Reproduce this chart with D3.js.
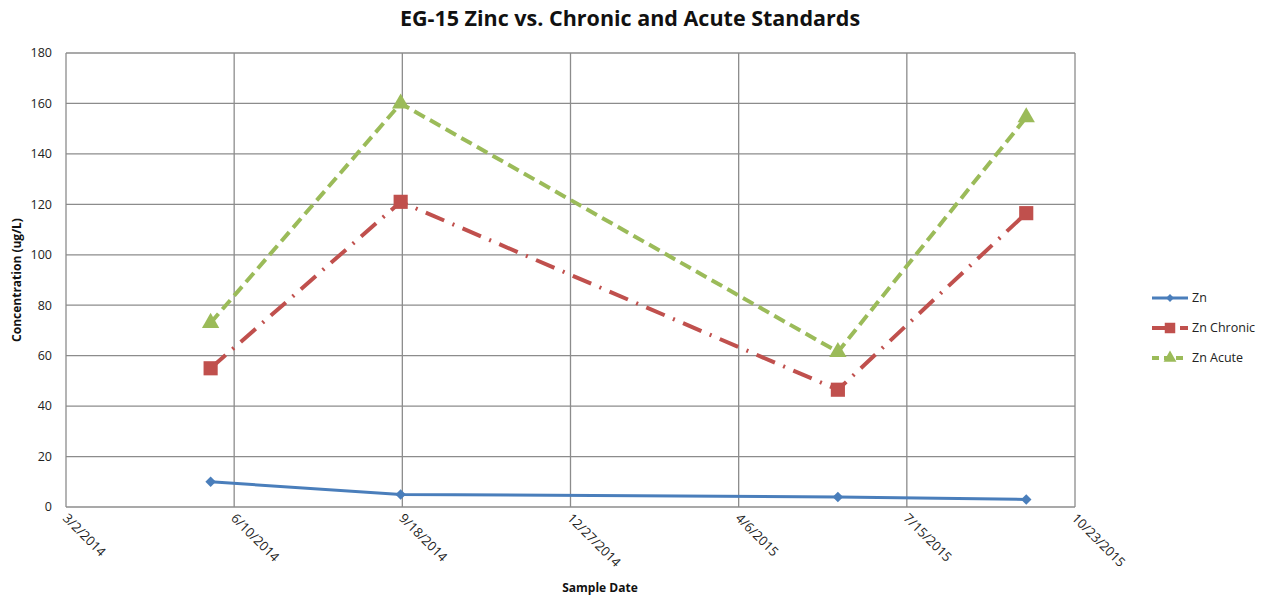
<!DOCTYPE html>
<html>
<head>
<meta charset="utf-8">
<script src="https://cdn.jsdelivr.net/npm/d3@7"></script>
<style>
  html, body { margin: 0; padding: 0; background: #fff; }
  svg { display: block; font-family: "Open Sans", "Liberation Sans", sans-serif; }
</style>
</head>
<body>
<svg id="chart" width="1267" height="598"></svg>
<script>
// Sample dates and zinc concentrations (ug/L)
const sampleDates = ["2014-05-27", "2014-09-17", "2015-06-04", "2015-09-24"];
const znValues = [10, 5, 4, 3];
const znChronic = [55, 121, 46.5, 116.5];
const znAcute = [73, 160, 61.5, 154.5];

const xTickDates = ["2014-03-02", "2014-06-10", "2014-09-18", "2014-12-27", "2015-04-06", "2015-07-15", "2015-10-23"];
const yTicks = [0, 20, 40, 60, 80, 100, 120, 140, 160, 180];

const seriesNames = ["Zn", "Zn Chronic", "Zn Acute"];

const parse = d3.timeParse("%Y-%m-%d");
const fmt = d => `${d.getMonth() + 1}/${d.getDate()}/${d.getFullYear()}`;

const svg = d3.select("#chart");
const plot = { left: 66, top: 53, right: 1075, bottom: 507 };

const x = d3.scaleTime()
  .domain([parse(xTickDates[0]), parse(xTickDates[xTickDates.length - 1])])
  .range([plot.left, plot.right]);
const y = d3.scaleLinear().domain([0, 180]).range([plot.bottom, plot.top]);

const gridColor = "#8c8c8c";

// Horizontal gridlines
svg.append("g").selectAll("line").data(yTicks).join("line")
  .attr("x1", plot.left).attr("x2", plot.right)
  .attr("y1", d => y(d)).attr("y2", d => y(d))
  .attr("stroke", gridColor).attr("stroke-width", 1.3);

// Vertical gridlines
svg.append("g").selectAll("line").data(xTickDates).join("line")
  .attr("x1", d => x(parse(d))).attr("x2", d => x(parse(d)))
  .attr("y1", plot.top).attr("y2", plot.bottom)
  .attr("stroke", gridColor).attr("stroke-width", 1.3);

// Y tick labels
svg.append("g").selectAll("text").data(yTicks).join("text")
  .attr("x", 52).attr("y", d => y(d)).attr("dy", "0.35em")
  .attr("text-anchor", "end").attr("font-size", 12.5).attr("fill", "#222")
  .text(d => d);

// X tick labels (rotated)
svg.append("g").selectAll("text").data(xTickDates).join("text")
  .attr("transform", d => `translate(${x(parse(d)) - 4},${plot.bottom + 12}) rotate(45)`)
  .attr("font-size", 13).attr("fill", "#222")
  .text(d => fmt(parse(d)));

// Titles
svg.append("text").attr("x", 630).attr("y", 26)
  .attr("text-anchor", "middle").attr("font-size", 21.5).attr("font-weight", "bold").attr("fill", "#111")
  .text("EG-15 Zinc vs. Chronic and Acute Standards");
svg.append("text").attr("x", 600).attr("y", 592)
  .attr("text-anchor", "middle").attr("font-size", 12).attr("font-weight", "bold").attr("fill", "#111")
  .text("Sample Date");
svg.append("text").attr("transform", `translate(21,${(plot.top + plot.bottom) / 2}) rotate(-90)`)
  .attr("text-anchor", "middle").attr("font-size", 12).attr("font-weight", "bold").attr("fill", "#111")
  .text("Concentration (ug/L)");

const series = [
  { name: seriesNames[0], values: znValues, color: "#4a7ebb", dash: null, width: 3, marker: "diamond" },
  { name: seriesNames[1], values: znChronic, color: "#c0504d", dash: "20,9,2,9", width: 4, marker: "square" },
  { name: seriesNames[2], values: znAcute, color: "#9bbb59", dash: "12,6", width: 4, marker: "triangle" }
];

const symbolFor = m => m === "triangle" ? d3.symbolTriangle : d3.symbolSquare;
const sizeFor = m => m === "diamond" ? 55 : m === "square" ? 200 : 130;
const rotFor = m => m === "diamond" ? 45 : 0;

const line = d3.line().x(d => x(d.date)).y(d => y(d.v));

series.forEach(s => {
  const pts = sampleDates.map((d, i) => ({ date: parse(d), v: s.values[i] }));
  svg.append("path").datum(pts)
    .attr("d", line).attr("fill", "none")
    .attr("stroke", s.color).attr("stroke-width", s.width)
    .attr("stroke-dasharray", s.dash)
    .attr("stroke-linecap", s.dash ? "butt" : "round");
  svg.append("g").selectAll("path").data(pts).join("path")
    .attr("transform", d => `translate(${x(d.date)},${y(d.v)}) rotate(${rotFor(s.marker)})`)
    .attr("d", d3.symbol().type(symbolFor(s.marker)).size(sizeFor(s.marker)))
    .attr("fill", s.color);
});

// Legend
const legendY = [298, 328, 358];
series.forEach((s, i) => {
  const g = svg.append("g").attr("transform", `translate(1152,${legendY[i]})`);
  g.append("line").attr("x1", 0).attr("x2", 36).attr("y1", 0).attr("y2", 0)
    .attr("stroke", s.color).attr("stroke-width", s.width)
    .attr("stroke-dasharray", s.dash ? (i === 1 ? "14,6,2,6" : "7,5") : null);
  g.append("path").attr("transform", `translate(18,0) rotate(${rotFor(s.marker)})`)
    .attr("d", d3.symbol().type(symbolFor(s.marker)).size(sizeFor(s.marker) * 0.55))
    .attr("fill", s.color);
  g.append("text").attr("x", 40).attr("y", 0).attr("dy", "0.35em")
    .attr("font-size", 12.5).attr("fill", "#222").text(s.name);
});
</script>
</body>
</html>
